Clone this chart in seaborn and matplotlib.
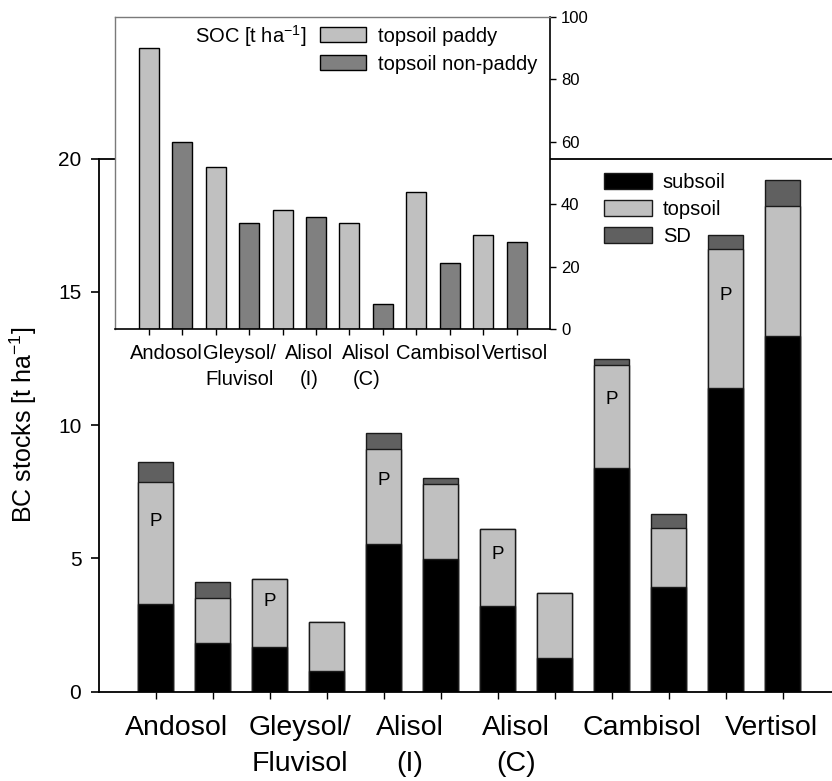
import numpy as np
import pandas as pd
import matplotlib
matplotlib.use("Agg")
import matplotlib.pyplot as plt
from matplotlib.patches import Patch
import seaborn as sns

# --- data -------------------------------------------------------------
soil_groups = ["Andosol", "Gleysol/\nFluvisol", "Alisol\n(I)", "Alisol\n(C)", "Cambisol", "Vertisol"]
land_use = ["paddy", "non-paddy"]

# black carbon stocks [t ha-1], paddy / non-paddy pairs per soil group
bc_subsoil = [3.30, 1.81, 1.66, 0.78, 5.54, 4.98, 3.21, 1.28, 8.38, 3.91, 11.38, 13.34]
bc_topsoil = [4.58, 1.69, 2.57, 1.82, 3.56, 2.83, 2.89, 2.43, 3.87, 2.24, 5.22, 4.88]
bc_sd = [0.75, 0.60, 0.00, 0.00, 0.59, 0.19, 0.00, 0.00, 0.22, 0.51, 0.55, 0.97]

# topsoil SOC stocks [t ha-1]
soc_paddy = [90, 52, 38, 34, 44, 30]
soc_nonpaddy = [60, 34, 36, 8, 21, 28]

main_yticks = [0, 5, 10, 15, 20]
inset_yticks = [0, 20, 40, 60, 80, 100]

# --- tables -----------------------------------------------------------
bar_names, bar_group, bar_use = [], [], []
for g in soil_groups:
    for u in land_use:
        bar_names.append(f"{g} {u}")
        bar_group.append(g)
        bar_use.append(u)

bc = pd.DataFrame({
    "bar": bar_names,
    "group": bar_group,
    "use": bar_use,
    "subsoil": bc_subsoil,
    "topsoil": bc_topsoil,
    "sd": bc_sd,
})
bc["top_cum"] = bc["subsoil"] + bc["topsoil"]
bc["total"] = bc["top_cum"] + bc["sd"]

soc_vals = []
for p, n in zip(soc_paddy, soc_nonpaddy):
    soc_vals += [p, n]
soc = pd.DataFrame({"bar": bar_names, "use": bar_use, "soc": soc_vals})

# --- style ------------------------------------------------------------
sns.set_theme(style="white")
plt.rcParams["font.family"] = ["Liberation Sans", "DejaVu Sans"]
plt.rcParams["mathtext.fontset"] = "custom"
plt.rcParams["mathtext.rm"] = "Liberation Sans"
plt.rcParams["mathtext.it"] = "Liberation Sans:italic"
plt.rcParams["text.color"] = "black"
plt.rcParams["axes.labelcolor"] = "black"
plt.rcParams["xtick.color"] = "black"
plt.rcParams["ytick.color"] = "black"

c_sub, c_top, c_sd = "#000000", "#c0c0c0", "#606060"
c_paddy, c_nonpaddy = "#c0c0c0", "#808080"
edge = "#1a1a1a"

fig = plt.figure(figsize=(8.32, 7.81), dpi=100)

# --- main stacked bars ------------------------------------------------
ax = fig.add_axes([0.1194, 0.1143, 0.8806, 0.6827])
common = dict(x="bar", order=bar_names, width=0.61, saturation=1,
              errorbar=None, edgecolor=edge, linewidth=1.0, ax=ax)
sns.barplot(data=bc, y="total", color=c_sd, **common)
sns.barplot(data=bc, y="top_cum", color=c_top, **common)
sns.barplot(data=bc, y="subsoil", color=c_sub, **common)

# paddy bars are marked with "P" inside the topsoil segment
for i, row in bc.iterrows():
    if row["use"] == "paddy":
        ax.text(i, row["subsoil"] + 0.67 * row["topsoil"], "P",
                ha="center", va="center", fontsize=13.5)

ax.set_xlim(-0.99, 11.865)
ax.set_ylim(0, 20)
ax.set_yticks(main_yticks)
ax.tick_params(axis="y", labelsize=15, length=6, width=1.2, direction="out", pad=7, left=True)
ax.set_xticks(range(len(bar_names)))
ax.set_xticklabels([])
ax.tick_params(axis="x", which="major", length=5, width=1.0, direction="out", bottom=True)

main_label_shift = [-0.13, 0.03, -0.04, -0.18, 0.03, 0.31]
main_label_pos = [2 * k + 0.5 + s for k, s in enumerate(main_label_shift)]
ax.set_xticks(main_label_pos, minor=True)
ax.set_xticklabels(soil_groups, minor=True, fontsize=20.5, linespacing=1.47)
ax.tick_params(axis="x", which="minor", length=0, pad=17)
ax.set_xlabel("")
ax.set_ylabel("BC stocks [t ha$^{-1}$]", fontsize=18)
ax.yaxis.set_label_coords(-0.083, 0.5)

for s in ["left", "bottom", "top"]:
    ax.spines[s].set_color("black")
    ax.spines[s].set_linewidth(1.3)
ax.spines["right"].set_visible(False)

ax.legend(handles=[Patch(facecolor=c_sub, edgecolor=edge, label="subsoil"),
                   Patch(facecolor=c_top, edgecolor=edge, label="topsoil"),
                   Patch(facecolor=c_sd, edgecolor=edge, label="SD")],
          loc="upper left", bbox_to_anchor=(0.726, 0.7785),
          bbox_transform=fig.transFigure, frameon=False, fontsize=14.5,
          handlelength=2.37, handleheight=0.8, handletextpad=0.55,
          labelspacing=0.4, borderpad=0, borderaxespad=0)

# --- inset: topsoil SOC ---------------------------------------------
ax2 = fig.add_axes([0.1388, 0.5788, 0.5222, 0.3994])
ax2.set_zorder(3)
ax2.set_facecolor("white")
sns.barplot(data=soc, x="bar", y="soc", hue="use", order=bar_names,
            hue_order=land_use, palette={"paddy": c_paddy, "non-paddy": c_nonpaddy},
            dodge=False, width=0.6, saturation=1, errorbar=None,
            edgecolor="black", linewidth=1.0, legend=False, ax=ax2)
ax2.set_xlim(-1, 12)
ax2.set_ylim(0, 100)
ax2.yaxis.tick_right()
ax2.set_yticks(inset_yticks)
ax2.tick_params(axis="y", labelsize=12, length=4, width=1.0, direction="out",
                pad=4, right=True, left=False)
ax2.set_xticks(range(len(bar_names)))
ax2.set_xticklabels([])
ax2.tick_params(axis="x", which="major", length=4, width=1.0, direction="out", bottom=True)
inset_label_shift = [0.01, 0.22, 0.29, 0.01, 0.15, 0.46]
inset_label_pos = [2 * k + 0.5 + s for k, s in enumerate(inset_label_shift)]
ax2.set_xticks(inset_label_pos, minor=True)
ax2.set_xticklabels(soil_groups, minor=True, fontsize=14.5, linespacing=1.48)
ax2.tick_params(axis="x", which="minor", length=0, pad=11)
ax2.set_xlabel("")
ax2.set_ylabel("")

for s in ["top", "left"]:
    ax2.spines[s].set_color("#7a7a7a")
    ax2.spines[s].set_linewidth(1.0)
for s in ["bottom", "right"]:
    ax2.spines[s].set_color("black")
    ax2.spines[s].set_linewidth(1.2)

ax2.legend(handles=[Patch(facecolor=c_paddy, edgecolor="black", label="topsoil paddy"),
                    Patch(facecolor=c_nonpaddy, edgecolor="black", label="topsoil non-paddy")],
           loc="upper left", bbox_to_anchor=(0.3846, 0.966),
           bbox_transform=fig.transFigure, frameon=False, fontsize=14.5,
           handlelength=2.3, handleheight=0.75, handletextpad=0.6,
           labelspacing=0.45, borderpad=0, borderaxespad=0)
ax2.text(195 / 832, 1 - 36 / 781, "SOC [t ha$^{-1}$]", transform=fig.transFigure,
         ha="left", va="center", fontsize=14.5)

fig.savefig("out.png", dpi=100)
